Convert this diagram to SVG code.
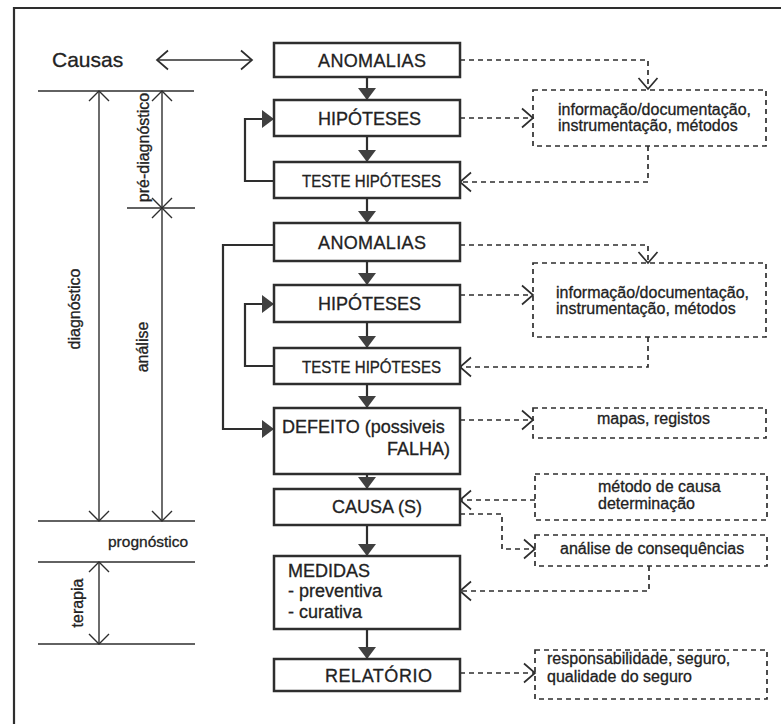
<svg xmlns="http://www.w3.org/2000/svg" width="781" height="724" viewBox="0 0 781 724">
<style>
text{font-family:"Liberation Sans",Arial,sans-serif;fill:#222;stroke:#222;stroke-width:0.3}
.box{fill:#fff;stroke:#2e2e2e;stroke-width:2.5}
.dbox{fill:none;stroke:#2e2e2e;stroke-width:1.7;stroke-dasharray:5 4}
.ln{fill:none;stroke:#2e2e2e;stroke-width:2.2}
.thin{fill:none;stroke:#2e2e2e;stroke-width:1.4}
.dash{fill:none;stroke:#2e2e2e;stroke-width:1.7;stroke-dasharray:5 4}
.bt{font-size:18px}
.st{font-size:16px}
</style>
<defs>
<marker id="fa" viewBox="0 -10 13 20" refX="12" refY="0" markerWidth="13" markerHeight="20" markerUnits="userSpaceOnUse" orient="auto">
<path d="M0,-9 L12,0 L0,9 Z" fill="#404040"/>
</marker>
<marker id="oa" viewBox="-1 -11 14 22" refX="11" refY="0" markerWidth="14" markerHeight="22" markerUnits="userSpaceOnUse" orient="auto-start-reverse">
<path d="M0,-9.5 L11,0 L0,9.5" fill="none" stroke="#2e2e2e" stroke-width="1.7"/>
</marker>
<marker id="da" viewBox="-1 -11 13 22" refX="10" refY="0" markerWidth="13" markerHeight="22" markerUnits="userSpaceOnUse" orient="auto-start-reverse">
<path d="M0,-10 L10,0 L0,10" fill="none" stroke="#2e2e2e" stroke-width="1.4"/>
</marker>
</defs>
<rect width="781" height="724" fill="#fff"/>
<path class="ln" d="M14,724 V8 H781" stroke-width="2"/>

<g id="legend">
<text x="52" y="67" font-size="21">Causas</text>
<line class="thin" x1="157" y1="60" x2="252" y2="60" marker-start="url(#oa)" marker-end="url(#oa)"/>
<line class="thin" x1="38" y1="91" x2="194" y2="91"/>
<line class="thin" x1="127" y1="208" x2="195" y2="208"/>
<line class="thin" x1="38" y1="521" x2="195" y2="521"/>
<line class="thin" x1="38" y1="562" x2="195" y2="562"/>
<line class="thin" x1="38" y1="644" x2="195" y2="644"/>
<line class="thin" x1="99" y1="91" x2="99" y2="521" marker-start="url(#da)" marker-end="url(#da)"/>
<line class="thin" x1="162" y1="91" x2="162" y2="208" marker-start="url(#da)" marker-end="url(#da)"/>
<line class="thin" x1="162" y1="208" x2="162" y2="521" marker-start="url(#da)" marker-end="url(#da)"/>
<line class="thin" x1="99" y1="562" x2="99" y2="644" marker-start="url(#da)" marker-end="url(#da)"/>
<text class="st" text-anchor="middle" transform="translate(149,147.5) rotate(-90)">pré-diagnóstico</text>
<text class="st" text-anchor="middle" transform="translate(80,309) rotate(-90)">diagnóstico</text>
<text class="st" text-anchor="middle" transform="translate(148,347) rotate(-90)">análise</text>
<text class="st" text-anchor="middle" transform="translate(83,603) rotate(-90)">terapia</text>
<text x="108" y="547" font-size="15.5">prognóstico</text>
</g>

<g id="connectors">
<line class="ln" x1="367" y1="77" x2="367" y2="100" marker-end="url(#fa)"/>
<line class="ln" x1="367" y1="136" x2="367" y2="162" marker-end="url(#fa)"/>
<line class="ln" x1="367" y1="198" x2="367" y2="223" marker-end="url(#fa)"/>
<line class="ln" x1="367" y1="261" x2="367" y2="285" marker-end="url(#fa)"/>
<line class="ln" x1="367" y1="322" x2="367" y2="348" marker-end="url(#fa)"/>
<line class="ln" x1="367" y1="384" x2="367" y2="408" marker-end="url(#fa)"/>
<line class="ln" x1="367" y1="474" x2="367" y2="489" marker-end="url(#fa)"/>
<line class="ln" x1="367" y1="525" x2="367" y2="556" marker-end="url(#fa)"/>
<line class="ln" x1="367" y1="629" x2="367" y2="659" marker-end="url(#fa)"/>
<path class="ln" d="M274,181 H245 V119 H274" marker-end="url(#fa)"/>
<path class="ln" d="M274,366 H245 V304 H274" marker-end="url(#fa)"/>
<path class="ln" d="M274,245 H223 V429 H274" marker-end="url(#fa)"/>

<path class="dash" d="M460,60 H648 V89" marker-end="url(#oa)"/>
<path class="dash" d="M460,118 H533" marker-end="url(#oa)"/>
<path class="dash" d="M648,146 V182 H460" marker-end="url(#oa)"/>
<path class="dash" d="M460,245 H648 V263" marker-end="url(#oa)"/>
<path class="dash" d="M460,295 H533" marker-end="url(#oa)"/>
<path class="dash" d="M648,337 V367 H460" marker-end="url(#oa)"/>
<path class="dash" d="M460,420 H533" marker-end="url(#oa)"/>
<path class="dash" d="M535,500 H460" marker-end="url(#oa)"/>
<path class="dash" d="M460,514 H502 V549 H535" marker-end="url(#oa)"/>
<path class="dash" d="M649,566 V591 H460" marker-end="url(#oa)"/>
<path class="dash" d="M460,673 H535" marker-end="url(#oa)"/>
</g>

<g id="anomalias1"><rect class="box" x="274" y="43" width="186" height="34"/><text class="bt" x="318" y="67" textLength="108">ANOMALIAS</text></g>
<g id="hipoteses1"><rect class="box" x="274" y="100" width="186" height="36"/><text class="bt" x="318" y="125">HIPÓTESES</text></g>
<g id="teste1"><rect class="box" x="274" y="162" width="186" height="36"/><text x="302" y="187" font-size="17" textLength="139" lengthAdjust="spacingAndGlyphs">TESTE HIPÓTESES</text></g>
<g id="anomalias2"><rect class="box" x="274" y="223" width="186" height="38"/><text class="bt" x="318" y="249" textLength="108">ANOMALIAS</text></g>
<g id="hipoteses2"><rect class="box" x="274" y="285" width="186" height="37"/><text class="bt" x="318" y="310">HIPÓTESES</text></g>
<g id="teste2"><rect class="box" x="274" y="348" width="186" height="36"/><text x="302" y="373" font-size="17" textLength="139" lengthAdjust="spacingAndGlyphs">TESTE HIPÓTESES</text></g>
<g id="defeito"><rect class="box" x="274" y="408" width="186" height="66"/><text class="bt" x="282" y="433">DEFEITO (possiveis</text><text class="bt" x="450" y="455" text-anchor="end">FALHA)</text></g>
<g id="causa"><rect class="box" x="274" y="489" width="186" height="36"/><text class="bt" x="332" y="513">CAUSA (S)</text></g>
<g id="medidas"><rect class="box" x="274" y="556" width="186" height="73"/><text class="bt" x="288" y="577">MEDIDAS</text><text class="bt" x="288" y="597">- preventiva</text><text class="bt" x="288" y="618">- curativa</text></g>
<g id="relatorio"><rect class="box" x="274" y="659" width="186" height="32"/><text class="bt" x="325" y="682" textLength="107">RELATÓRIO</text></g>

<g id="info1"><rect class="dbox" x="533" y="90" width="233" height="56"/><text class="st" x="558" y="115">informação/documentação,</text><text class="st" x="558" y="131">instrumentação, métodos</text></g>
<g id="info2"><rect class="dbox" x="533" y="263" width="233" height="74"/><text class="st" x="556" y="298">informação/documentação,</text><text class="st" x="556" y="314">instrumentação, métodos</text></g>
<g id="mapas"><rect class="dbox" x="533" y="408" width="233" height="30"/><text class="st" x="597" y="424">mapas, registos</text></g>
<g id="metodo"><rect class="dbox" x="535" y="474" width="232" height="46"/><text class="st" x="598" y="492">método de causa</text><text class="st" x="598" y="509">determinação</text></g>
<g id="consequencias"><rect class="dbox" x="535" y="535" width="232" height="31"/><text class="st" x="560" y="554">análise de consequências</text></g>
<g id="responsabilidade"><rect class="dbox" x="535" y="650" width="232" height="49"/><text class="st" x="547" y="664">responsabilidade, seguro,</text><text class="st" x="547" y="682">qualidade do seguro</text></g>
</svg>
